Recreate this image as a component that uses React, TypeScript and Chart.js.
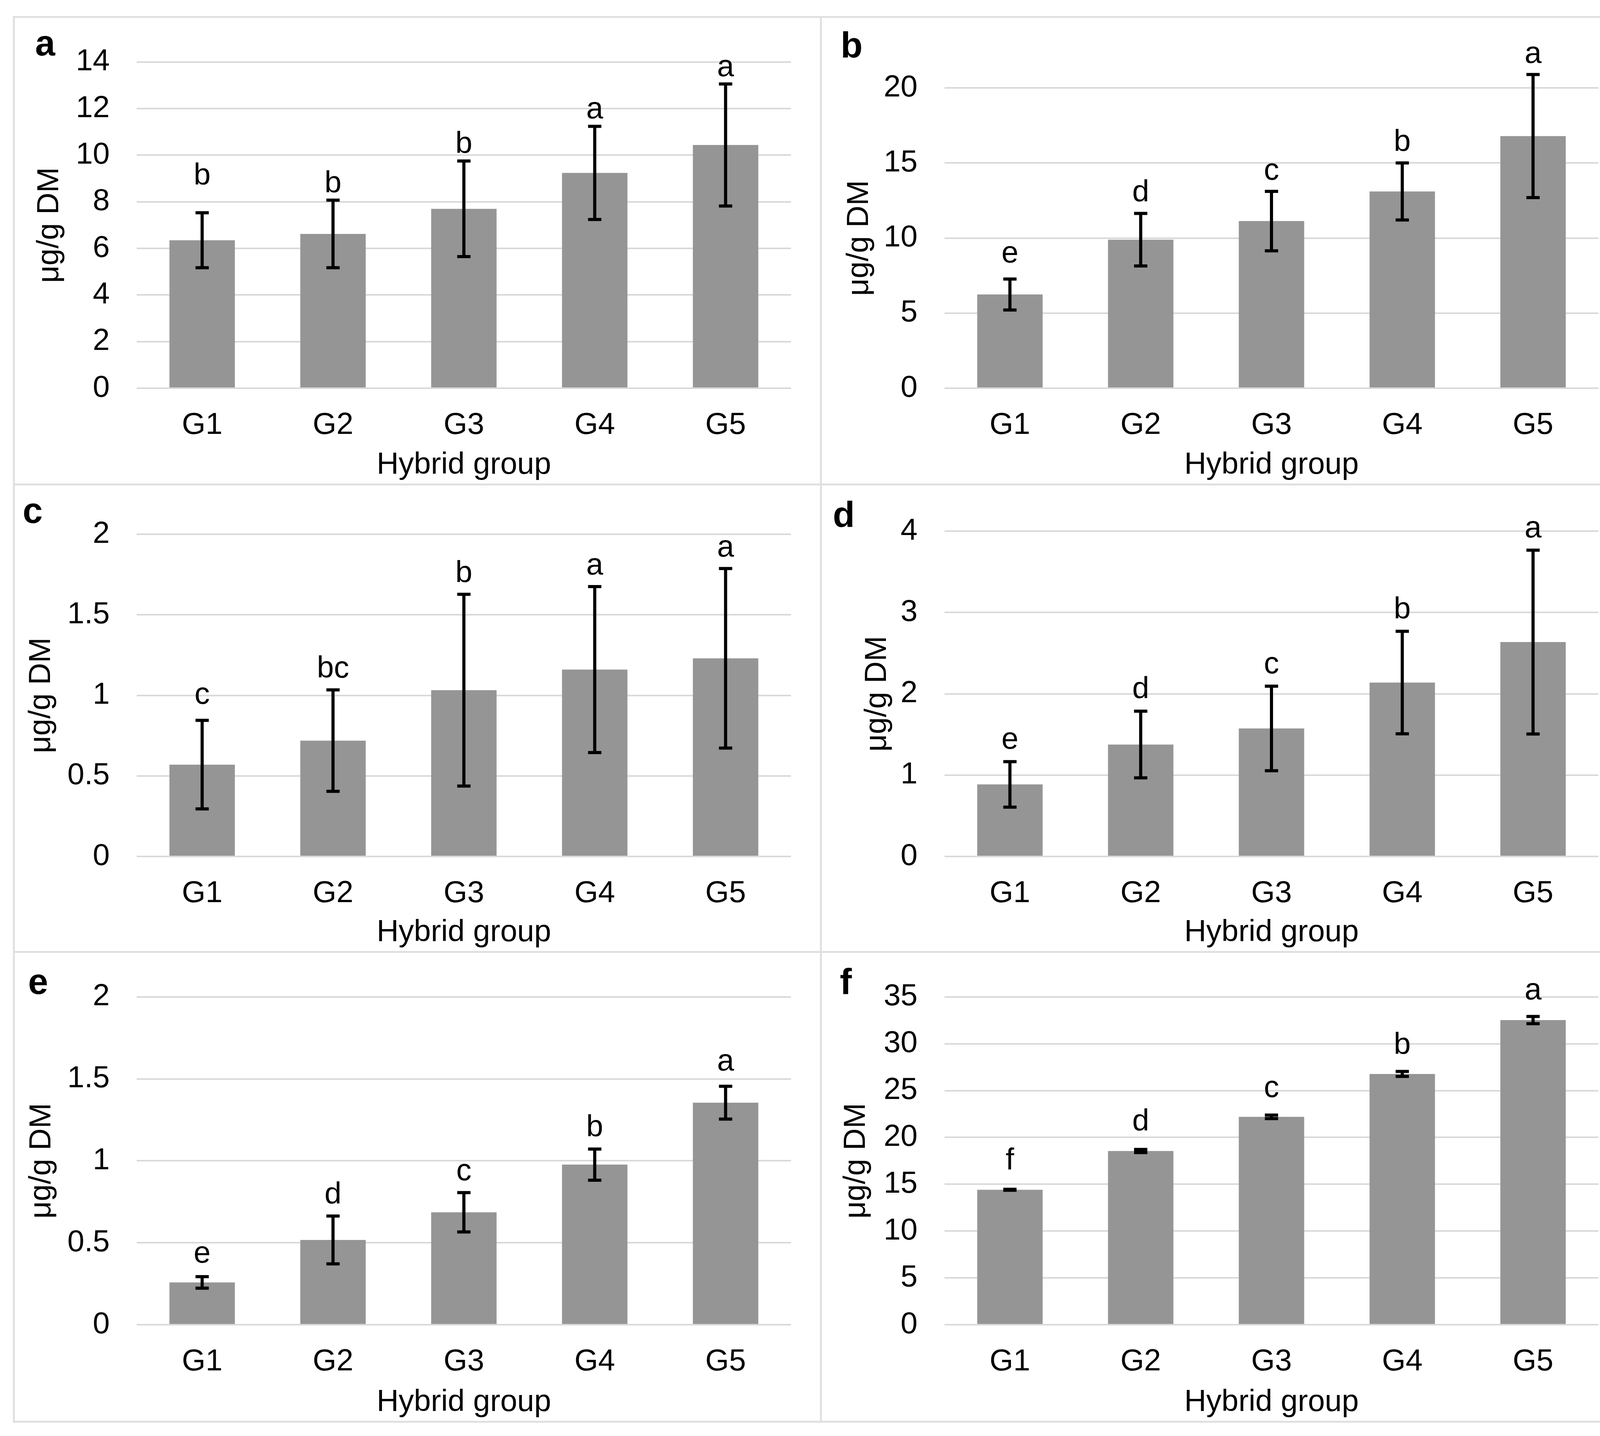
import React, { useEffect, useRef } from 'react';
import { Chart, registerables } from 'chart.js';

Chart.register(...registerables);

// ---------- data ----------
const groups = ['G1', 'G2', 'G3', 'G4', 'G5'];

const meansA = [6.35, 6.62, 7.7, 9.24, 10.44];
const errA = [1.18, 1.45, 2.05, 2.0, 2.62];
const lettersA = ['b', 'b', 'b', 'a', 'a'];

const meansB = [6.24, 9.89, 11.13, 13.1, 16.79];
const errB = [1.03, 1.75, 1.98, 1.9, 4.1];
const lettersB = ['e', 'd', 'c', 'b', 'a'];

const meansC = [0.57, 0.719, 1.032, 1.16, 1.23];
const errC = [0.275, 0.315, 0.595, 0.515, 0.557];
const lettersC = ['c', 'bc', 'b', 'a', 'a'];

const meansD = [0.886, 1.376, 1.574, 2.138, 2.636];
const errD = [0.28, 0.41, 0.52, 0.63, 1.13];
const lettersD = ['e', 'd', 'c', 'b', 'a'];

const meansE = [0.258, 0.517, 0.686, 0.977, 1.355];
const errE = [0.035, 0.146, 0.12, 0.095, 0.1];
const lettersE = ['e', 'd', 'c', 'b', 'a'];

const meansF = [14.41, 18.55, 22.2, 26.78, 32.53];
const errF = [0.05, 0.17, 0.19, 0.27, 0.39];
const lettersF = ['f', 'd', 'c', 'b', 'a'];

const yTitle = 'μg/g DM';
const xTitle = 'Hybrid group';

// ---------- styles / layout ----------
const FONT = '"Liberation Sans", Arial, Helvetica, sans-serif';
const FS = 78;
const BAR = '#959595';
const GRID = '#d9d9d9';
const BORDER = '#e0e0e0';

type Panel = {
  tag: string;
  means: number[];
  errs: number[];
  letters: string[];
  max: number;
  step: number;
  left: number;
  top: number;
  w: number;
  h: number;
  area: { l: number; t: number; r: number; b: number };
  titlePad: number;
  tagX: number;
  tagY: number;
  gap: number;
  lift: number[];
};

const panels: Panel[] = [
  { tag: 'a', means: meansA, errs: errA, letters: lettersA, max: 14, step: 2,
    left: 35, top: 43, w: 2066, h: 1197, area: { l: 315, t: 104.5, r: 1990, b: 951 },
    titlePad: 46, tagX: 55, tagY: 99, gap: 16, lift: [52, 0, 0, 0, 0] },
  { tag: 'b', means: meansB, errs: errB, letters: lettersB, max: 20, step: 5,
    left: 2101, top: 43, w: 2069, h: 1197, area: { l: 317, t: 182, r: 1991, b: 951 },
    titlePad: 53, tagX: 51, tagY: 104, gap: 26, lift: [12, 0, 0, 0, 0] },
  { tag: 'c', means: meansC, errs: errC, letters: lettersC, max: 2, step: 0.5,
    left: 35, top: 1240, w: 2066, h: 1197, area: { l: 315, t: 128, r: 1990, b: 953 },
    titlePad: 25, tagX: 23, tagY: 99, gap: 27, lift: [11, 0, 0, 0, 0] },
  { tag: 'd', means: meansD, errs: errD, letters: lettersD, max: 4, step: 1,
    left: 2101, top: 1240, w: 2069, h: 1197, area: { l: 317, t: 120, r: 1991, b: 953 },
    titlePad: 99, tagX: 31, tagY: 109, gap: 29, lift: [0, 0, 0, 0, 0] },
  { tag: 'e', means: meansE, errs: errE, letters: lettersE, max: 2, step: 0.5,
    left: 35, top: 2437, w: 2066, h: 1203, area: { l: 315, t: 109, r: 1990, b: 955 },
    titlePad: 26, tagX: 37, tagY: 108, gap: 28, lift: [4, 0, 0, 0, 8] },
  { tag: 'f', means: meansF, errs: errF, letters: lettersF, max: 35, step: 5,
    left: 2101, top: 2437, w: 2069, h: 1203, area: { l: 317, t: 109, r: 1991, b: 955 },
    titlePad: 45, tagX: 49, tagY: 108, gap: 40, lift: [6, 4, 2, 0, 0] },
];

function PanelChart({ p }: { p: Panel }) {
  const ref = useRef<HTMLCanvasElement | null>(null);

  useEffect(() => {
    if (!ref.current) return;
    const overlay = {
      id: 'errbarsLetters',
      afterDatasetsDraw(chart: any) {
        const { ctx } = chart;
        const meta = chart.getDatasetMeta(0);
        const ys = chart.scales.y;
        ctx.save();
        meta.data.forEach((bar: any, i: number) => {
          const x = bar.x;
          const v = p.means[i];
          const yTop = ys.getPixelForValue(v + p.errs[i]);
          const yBot = ys.getPixelForValue(v - p.errs[i]);
          ctx.strokeStyle = '#000';
          ctx.lineWidth = 8;
          ctx.lineCap = 'butt';
          ctx.beginPath();
          ctx.moveTo(x, yTop);
          ctx.lineTo(x, yBot);
          ctx.stroke();
          ctx.beginPath();
          ctx.moveTo(x - 17, yTop);
          ctx.lineTo(x + 17, yTop);
          ctx.moveTo(x - 17, yBot);
          ctx.lineTo(x + 17, yBot);
          ctx.stroke();
          ctx.fillStyle = '#000';
          ctx.font = `${FS}px ${FONT}`;
          ctx.textAlign = 'center';
          ctx.textBaseline = 'alphabetic';
          ctx.fillText(p.letters[i], x, yTop - 4 - p.gap - p.lift[i]);
        });
        ctx.font = `bold 92px ${FONT}`;
        ctx.textAlign = 'left';
        ctx.textBaseline = 'alphabetic';
        ctx.fillStyle = '#000';
        ctx.fillText(p.tag, p.tagX, p.tagY);
        ctx.restore();
      },
    };

    const chart = new Chart(ref.current, {
      type: 'bar',
      data: {
        labels: groups,
        datasets: [
          {
            data: p.means,
            backgroundColor: BAR,
            borderWidth: 0,
            barPercentage: 0.5,
            categoryPercentage: 1.0,
          },
        ],
      },
      options: {
        animation: false,
        responsive: false,
        maintainAspectRatio: false,
        devicePixelRatio: 1,
        layout: {
          padding: { left: 0, top: p.area.t, right: p.w - p.area.r, bottom: 0 },
        },
        plugins: {
          legend: { display: false },
          tooltip: { enabled: false },
        },
        scales: {
          x: {
            grid: { display: false, drawTicks: false },
            border: { display: false },
            ticks: {
              color: '#000',
              padding: 49,
              font: { family: FONT, size: FS },
            },
            title: {
              display: true,
              text: xTitle,
              color: '#000',
              font: { family: FONT, size: FS },
              padding: { top: 0, bottom: 2 },
            },
            afterFit: (s: any) => {
              s.height = p.h - p.area.b;
            },
          },
          y: {
            min: 0,
            max: p.max,
            grid: { color: GRID, lineWidth: 4, drawTicks: false },
            border: { display: false },
            ticks: {
              stepSize: p.step,
              color: '#000',
              padding: 69,
              font: { family: FONT, size: FS },
              callback: (v: any) => String(Math.round(Number(v) * 100) / 100),
            },
            title: {
              display: true,
              text: yTitle,
              color: '#000',
              font: { family: FONT, size: FS },
              padding: { top: p.titlePad, bottom: 0 },
            },
            afterFit: (s: any) => {
              s.width = p.area.l;
            },
          },
        },
      },
      plugins: [overlay],
    } as any);

    return () => chart.destroy();
  }, [p]);

  return (
    <canvas
      ref={ref}
      width={p.w}
      height={p.h}
      style={{ position: 'absolute', left: p.left, top: p.top, width: p.w, height: p.h }}
    />
  );
}

const vLines = [35, 2101, 4170];
const hLines = [43, 1240, 2437, 3640];

export default function App() {
  return (
    <div
      style={{
        position: 'absolute',
        left: 0,
        top: 0,
        width: 4206,
        height: 3677,
        background: '#fff',
        overflow: 'hidden',
      }}
    >
      {panels.map((p) => (
        <PanelChart key={p.tag} p={p} />
      ))}
      {vLines.map((x) => (
        <div
          key={'v' + x}
          style={{ position: 'absolute', left: x - 2.5, top: 43 - 2.5, width: 5, height: 3640 - 43 + 5, background: BORDER }}
        />
      ))}
      {hLines.map((y) => (
        <div
          key={'h' + y}
          style={{ position: 'absolute', left: 35 - 2.5, top: y - 2.5, width: 4170 - 35 + 5, height: 5, background: BORDER }}
        />
      ))}
    </div>
  );
}
